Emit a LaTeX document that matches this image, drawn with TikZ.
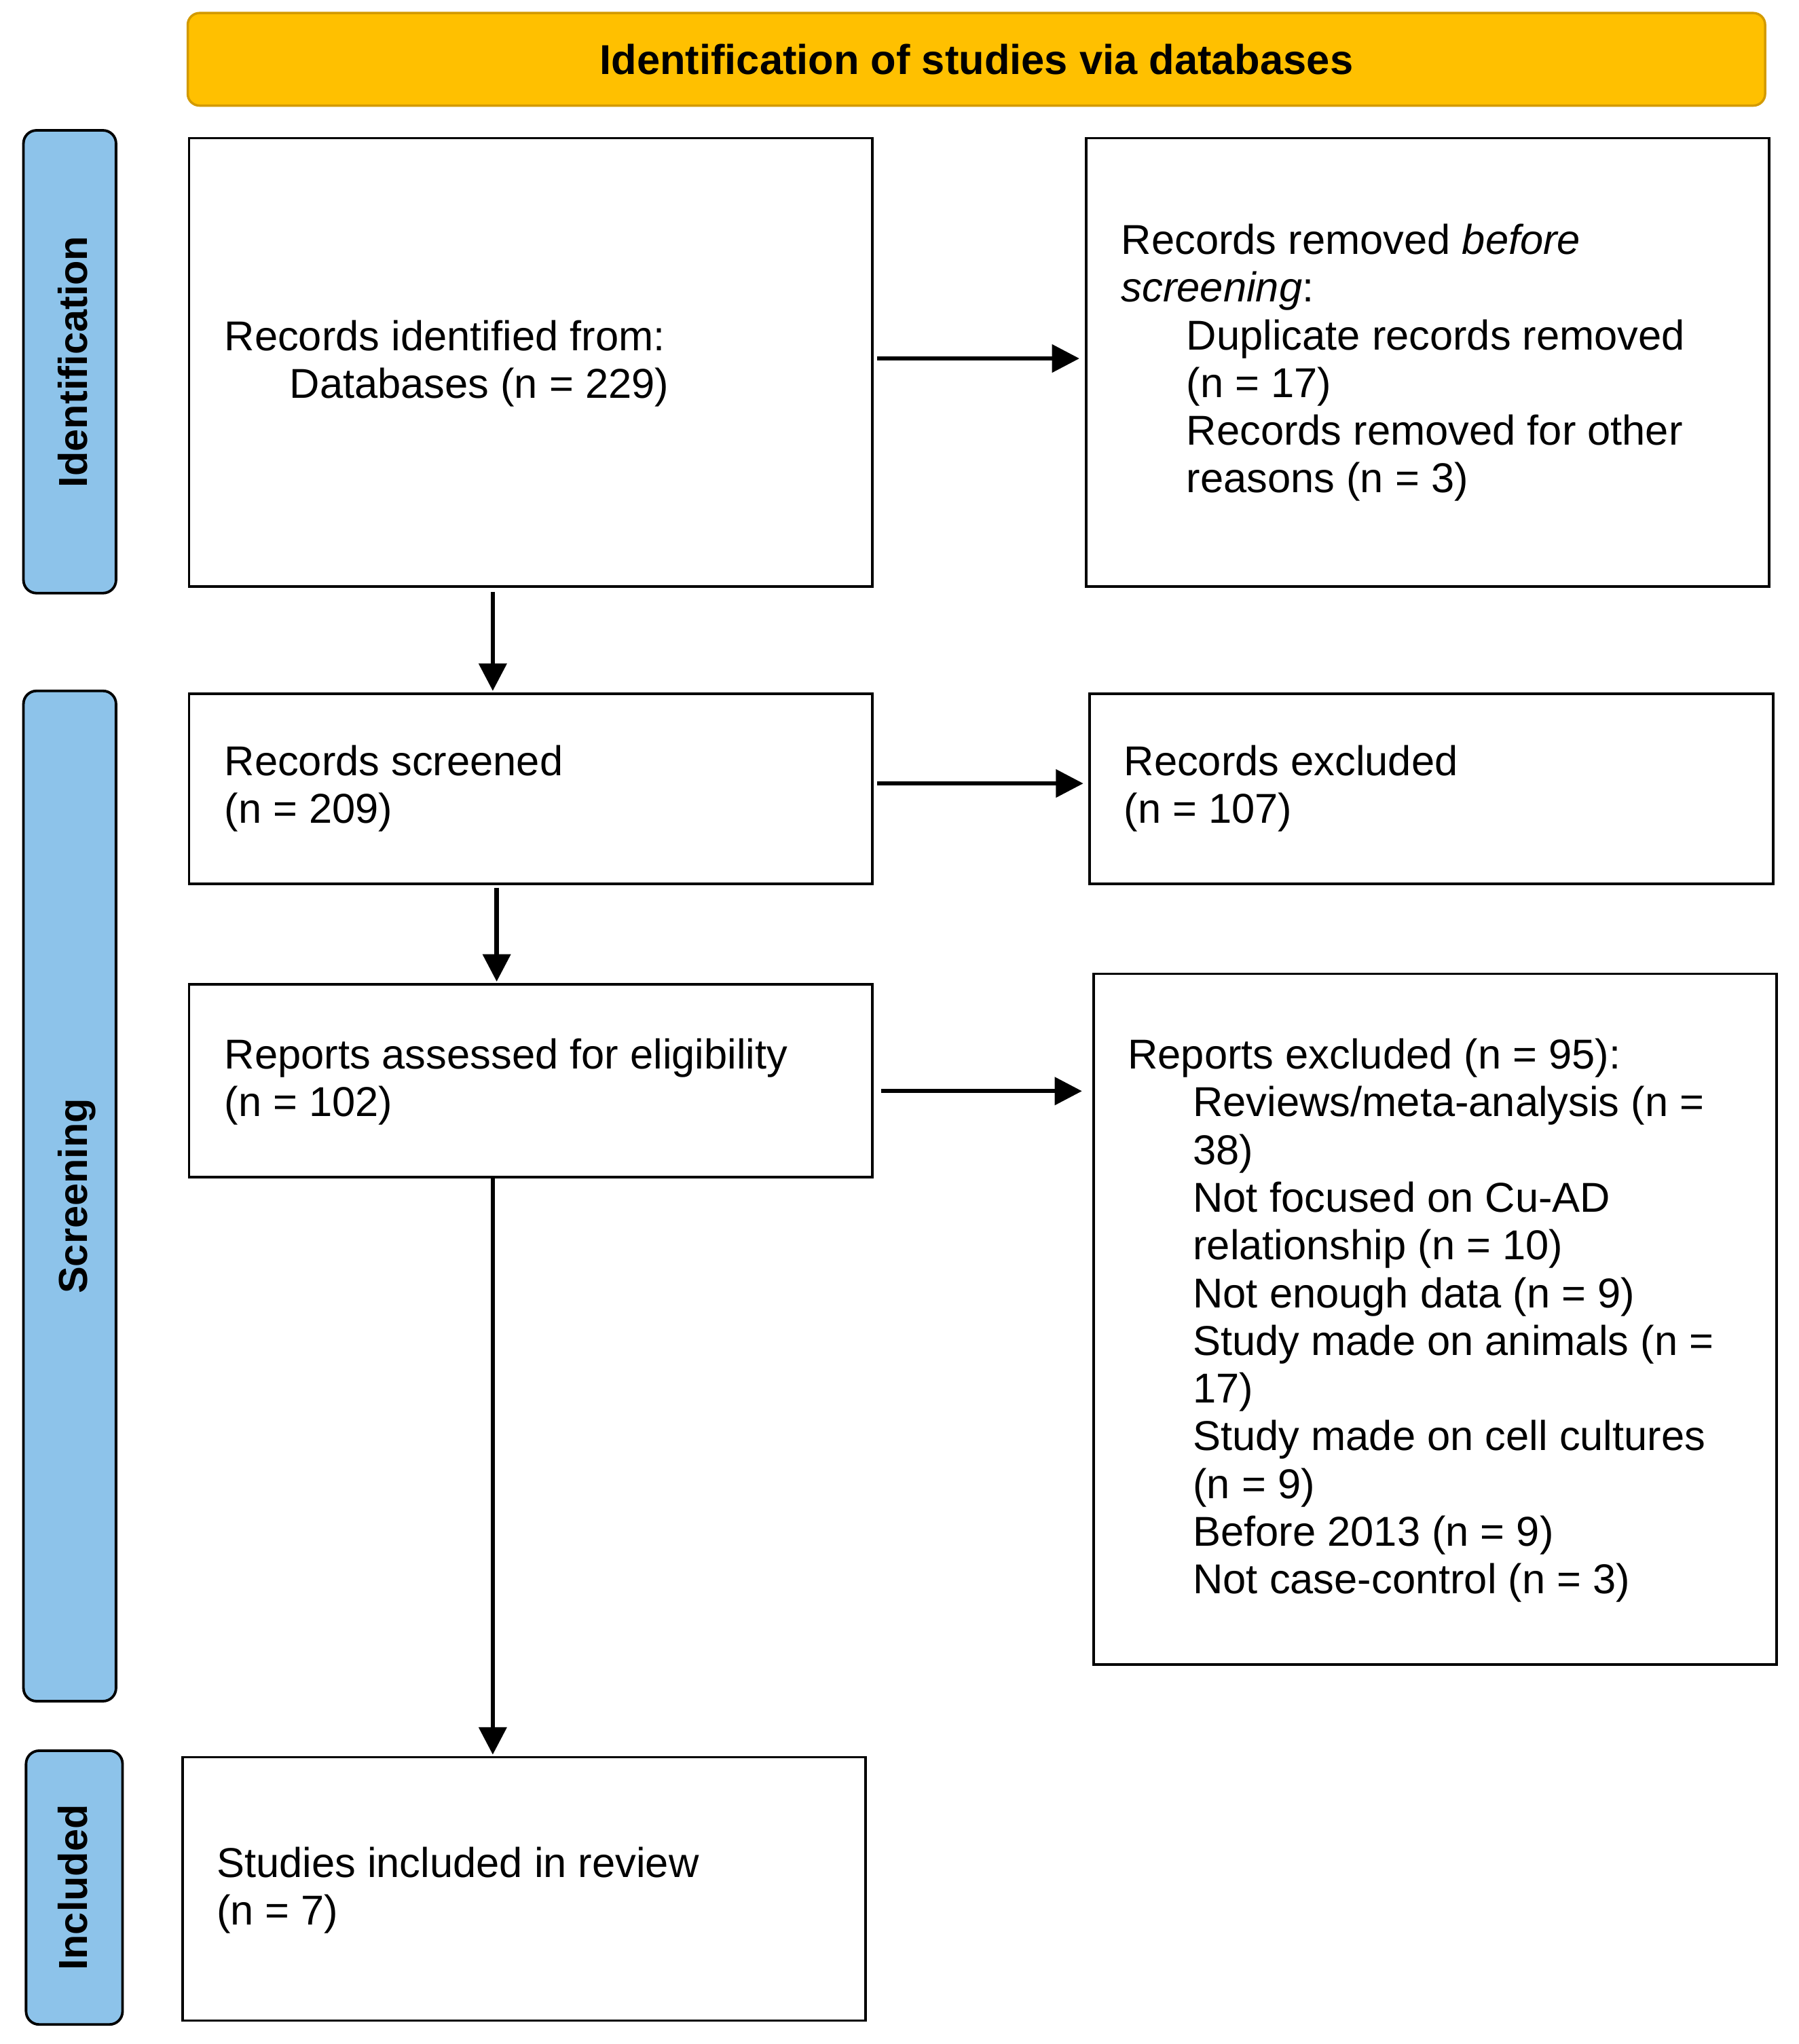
\documentclass[tikz,border=0pt]{standalone}
\usepackage{fontspec}
\setmainfont{Liberation Sans}
\usetikzlibrary{arrows.meta}
\definecolor{hdrfill}{HTML}{FFC000}
\definecolor{hdrline}{HTML}{D39A00}
\definecolor{sidefill}{HTML}{8DC3EA}
\newcommand{\mybody}{\fontsize{32}{36.6}\selectfont}
\newcommand{\myind}{\hspace*{50pt}}
\begin{document}
\begin{tikzpicture}[x=1pt,y=-1pt,
  box/.style={draw=black, line width=2pt, fill=white, inner sep=0pt, anchor=north west, minimum width=524pt},
  side/.style={draw=black, line width=2pt, fill=sidefill, rounded corners=10pt, inner sep=0pt, rotate=90,
    text height=27pt, text depth=0pt, font=\fontsize{31}{36}\selectfont\bfseries},
  hdr/.style={draw=hdrline, line width=1.8pt, fill=hdrfill, rounded corners=9pt, inner sep=0pt,
    font=\fontsize{32}{36}\selectfont\bfseries},
  txt/.style={anchor=base west, inner sep=0pt, font=\mybody},
  arr/.style={line width=3.3pt, -{Triangle[length=21pt,width=21pt]}}
]
\useasboundingbox (0,0) rectangle (1379.5,1568);

% header
\node[hdr, minimum width=1210pt, minimum height=71pt] (head) at (749,45.5) {Identification of studies via databases};

% side labels
\node[side, minimum width=355pt, minimum height=71pt] (sideid) at (53.5,277.5) {Identification};
\node[side, minimum width=775pt, minimum height=71pt] (sidescr) at (53.5,917.5) {Screening};
\node[side, minimum width=210pt, minimum height=74pt, text height=19.6pt] (sideinc) at (57,1448) {Included};

% boxes
\node[box, minimum height=344pt] (ident) at (144,105) {};
\node[box, minimum height=344pt] (removed) at (832,105) {};
\node[box, minimum height=146pt] (screened) at (144,531) {};
\node[box, minimum height=146pt] (excluded) at (835,531) {};
\node[box, minimum height=148pt] (assessed) at (144,754) {};
\node[box, minimum height=530pt] (repexcl) at (838,746) {};
\node[box, minimum height=202pt] (included) at (139,1347) {};

% texts
\node[txt] (tident) at (172,269) {\begin{tabular}[t]{@{}l@{}}Records identified from:\\ \myind Databases (n = 229)\end{tabular}};
\node[txt] (tremoved) at (860,195) {\begin{tabular}[t]{@{}l@{}}Records removed \textit{before}\\ \textit{screening}:\\
 \myind Duplicate records removed\\ \myind (n = 17)\\ \myind Records removed for other\\ \myind reasons (n = 3)\end{tabular}};
\node[txt] (tscreened) at (172,595) {\begin{tabular}[t]{@{}l@{}}Records screened\\ (n = 209)\end{tabular}};
\node[txt] (texcluded) at (862,595) {\begin{tabular}[t]{@{}l@{}}Records excluded\\ (n = 107)\end{tabular}};
\node[txt] (tassessed) at (172,820) {\begin{tabular}[t]{@{}l@{}}Reports assessed for eligibility\\ (n = 102)\end{tabular}};
\node[txt] (trepexcl) at (865,820) {\begin{tabular}[t]{@{}l@{}}Reports excluded (n = 95):\\
 \myind Reviews/meta-analysis (n =\\ \myind 38)\\
 \myind Not focused on Cu-AD\\ \myind relationship (n = 10)\\
 \myind Not enough data (n = 9)\\
 \myind Study made on animals (n =\\ \myind 17)\\
 \myind Study made on cell cultures\\ \myind (n = 9)\\
 \myind Before 2013 (n = 9)\\
 \myind Not case-control (n = 3)\end{tabular}};
\node[txt] (tincluded) at (166,1440) {\begin{tabular}[t]{@{}l@{}}Studies included in review\\ (n = 7)\end{tabular}};

% arrows
\draw[arr, shorten <=3pt, shorten >=4pt] ([yshift=3pt]ident.east) -- ([yshift=3pt]ident.east -| removed.west);
\draw[arr, shorten <=3pt, shorten >=4pt] ([yshift=4pt]screened.east) -- ([yshift=4pt]screened.east -| excluded.west);
\draw[arr, shorten <=6pt, shorten >=8pt] ([yshift=-8pt]assessed.east) -- ([yshift=-8pt]assessed.east -| repexcl.west);
\draw[arr, shorten <=3pt, shorten >=1pt] ([xshift=-29pt]ident.south) -- ([xshift=-29pt]ident.south |- screened.north);
\draw[arr, shorten <=2pt, shorten >=1pt] ([xshift=-26pt]screened.south) -- ([xshift=-26pt]screened.south |- assessed.north);
\draw[arr, shorten <=0pt, shorten >=1pt] ([xshift=-29pt]assessed.south) -- ([xshift=-29pt]assessed.south |- included.north);
\end{tikzpicture}
\end{document}
